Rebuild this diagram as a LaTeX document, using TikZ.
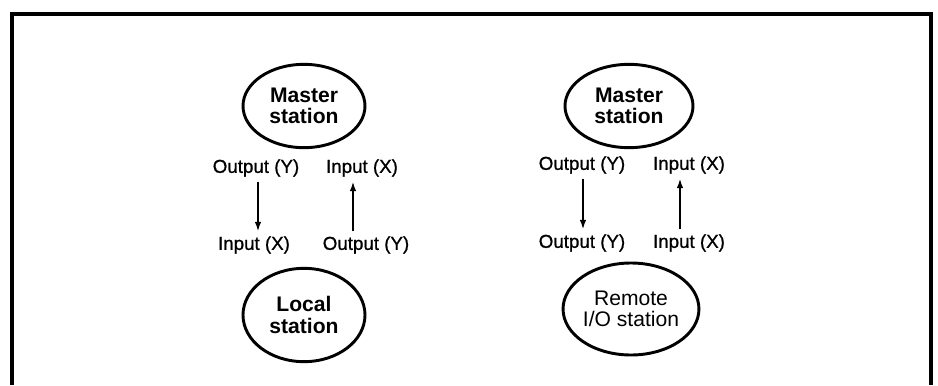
\documentclass[tikz,border=0pt]{standalone}
\usepackage{fontspec}
\setmainfont{Liberation Sans}
\usetikzlibrary{shapes.geometric, arrows.meta}

\begin{document}
\begin{tikzpicture}[x=0.03cm, y=-0.03cm,
    station/.style={draw, ellipse, line width=2.5pt, inner sep=0pt, align=center,
        font=\fontsize{18}{18.5}\selectfont\bfseries},
    port/.style={font=\fontsize{16}{17}\selectfont\addfontfeature{FakeBold=0.8}, inner sep=1pt},
    flow/.style={-{Latex[length=8pt, width=5.5pt]}, line width=1.4pt, shorten >=3pt, shorten <=3pt}]
\useasboundingbox (0, 0) rectangle (938, 385);
% frame, open at the bottom
\draw[line width=3pt] (12, 385) -- (12, 14) -- (931, 14) -- (931, 385);

% master / local station
\node[station, minimum width=3.66cm, minimum height=2.5cm] (mastera) at (304, 106) {Master\\station};
\node[station, minimum width=3.66cm, minimum height=2.8cm] (local) at (304, 315) {Local\\station};
\node[port] (outa) at (256, 168) {Output (Y)};
\node[port] (ina) at (362, 168) {Input (X)};
\node[port] (inb) at (254, 245) {Input (X)};
\node[port] (outb) at (366, 245) {Output (Y)};
\draw[flow] (outa.south -| 258, 0) -- (inb.north -| 258, 0);
\draw[flow] (outb.north -| 353, 0) -- (ina.south -| 353, 0);

% master / remote I/O station
\node[station, minimum width=3.84cm, minimum height=2.5cm] (masterb) at (629, 106) {Master\\station};
\node[station, minimum width=3.78cm, minimum height=2.76cm, font=\fontsize{18}{18.5}\selectfont]
    (remote) at (631, 309) {Remote\\I/O station};
\node[port] (outc) at (582, 165) {Output (Y)};
\node[port] (inc) at (689, 165) {Input (X)};
\node[port] (outd) at (582, 243) {Output (Y)};
\node[port] (ind) at (689, 243) {Input (X)};
\draw[flow] (outc.south -| 583, 0) -- (outd.north -| 583, 0);
\draw[flow] (ind.north -| 680, 0) -- (inc.south -| 680, 0);
\end{tikzpicture}
\end{document}
